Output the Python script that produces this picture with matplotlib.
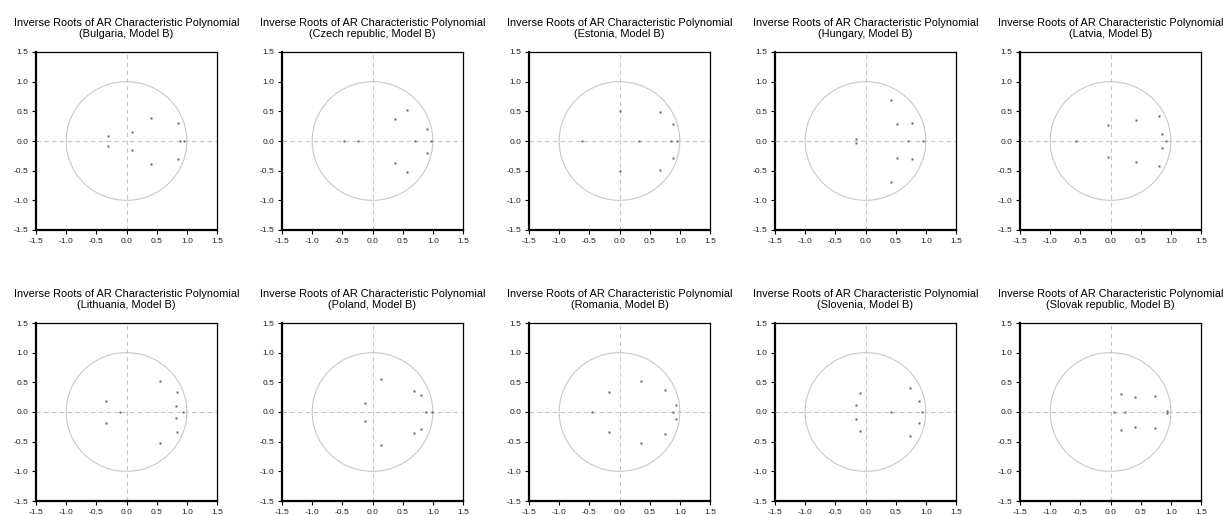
import numpy as np
import matplotlib
matplotlib.use("Agg")
import matplotlib.pyplot as plt

plt.rcParams['font.family'] = ['Liberation Sans', 'DejaVu Sans']

countries = ["Bulgaria", "Czech republic", "Estonia", "Hungary", "Latvia",
             "Lithuania", "Poland", "Romania", "Slovenia", "Slovak republic"]

# real inverse roots and complex-pair inverse roots (re, |im|)
bulgaria_real = [0.88, 0.96]
bulgaria_pairs = [(-0.31, 0.08), (0.083, 0.16), (0.40, 0.38), (0.85, 0.31)]
czech_real = [-0.47, -0.24, 0.70, 0.97]
czech_pairs = [(0.365, 0.37), (0.565, 0.53), (0.91, 0.195)]
estonia_real = [-0.615, 0.325, 0.86, 0.96]
estonia_pairs = [(0.0, 0.51), (0.675, 0.49), (0.895, 0.285)]
hungary_real = [0.71, 0.95]
hungary_pairs = [(-0.165, 0.037), (0.42, 0.69), (0.52, 0.285), (0.775, 0.295)]
latvia_real = [-0.58, 0.92]
latvia_pairs = [(-0.044, 0.27), (0.417, 0.35), (0.805, 0.42), (0.85, 0.115)]
lithuania_real = [-0.115, 0.93]
lithuania_pairs = [(-0.34, 0.185), (0.56, 0.52), (0.83, 0.335), (0.82, 0.108)]
poland_real = [0.89, 0.98]
poland_pairs = [(-0.12, 0.16), (0.134, 0.56), (0.68, 0.36), (0.80, 0.29)]
romania_real = [-0.45, 0.88]
romania_pairs = [(-0.17, 0.34), (0.36, 0.53), (0.76, 0.375), (0.93, 0.11)]
slovenia_real = [0.43, 0.94]
slovenia_pairs = [(-0.083, 0.32), (-0.15, 0.125), (0.73, 0.40), (0.89, 0.185)]
slovak_real = [0.055, 0.245]
slovak_pairs = [(0.167, 0.295), (0.41, 0.25), (0.73, 0.27), (0.94, 0.015)]

reals = [bulgaria_real, czech_real, estonia_real, hungary_real, latvia_real,
         lithuania_real, poland_real, romania_real, slovenia_real, slovak_real]
pairs = [bulgaria_pairs, czech_pairs, estonia_pairs, hungary_pairs, latvia_pairs,
         lithuania_pairs, poland_pairs, romania_pairs, slovenia_pairs, slovak_pairs]

ticks = [-1.5, -1.0, -0.5, 0.0, 0.5, 1.0, 1.5]
tick_labels = ["-1.5", "-1.0", "-0.5", "0.0", "0.5", "1.0", "1.5"]

W, H = 1223, 515
fig = plt.figure(figsize=(W / 100, H / 100), dpi=100)

lefts = [36, 282, 529, 775, 1020]
tops = [52, 323]
aw, ah = 181, 178

theta = np.linspace(0, 2 * np.pi, 400)
for i, name in enumerate(countries):
    r, c = divmod(i, 5)
    x0 = lefts[c]
    y0 = tops[r]
    ax = fig.add_axes([x0 / W, (H - y0 - ah) / H, aw / W, ah / H])
    ax.set_xlim(-1.5, 1.5)
    ax.set_ylim(-1.5, 1.5)
    ax.plot(np.cos(theta), np.sin(theta), color='#c8c8c8', lw=0.8, zorder=1)
    ax.axhline(0, color='#c8c8c8', lw=0.8, ls=(0, (4, 3)), zorder=1)
    ax.axvline(0, color='#c8c8c8', lw=0.8, ls=(0, (4, 3)), zorder=1)
    xs = list(reals[i]) + [p[0] for p in pairs[i]] * 2
    ys = [0.0] * len(reals[i]) + [p[1] for p in pairs[i]] + [-p[1] for p in pairs[i]]
    ax.plot(xs, ys, 's', ms=1.8, color='#666666', mec='none', zorder=3)
    ax.set_xticks(ticks)
    ax.set_yticks(ticks)
    ax.set_xticklabels(tick_labels)
    ax.set_yticklabels(tick_labels)
    ax.tick_params(direction='out', length=3, width=0.8, labelsize=6.1,
                   pad=2.5, colors='black', labelcolor='#222222')
    ax.spines['left'].set_linewidth(1.6)
    ax.spines['bottom'].set_linewidth(1.6)
    ax.spines['top'].set_linewidth(0.9)
    ax.spines['right'].set_linewidth(0.9)
    ax.set_title("Inverse Roots of AR Characteristic Polynomial\n(%s, Model B)" % name,
                 fontsize=7.9, pad=11, linespacing=1.1)

fig.savefig("out.png", dpi=100)
